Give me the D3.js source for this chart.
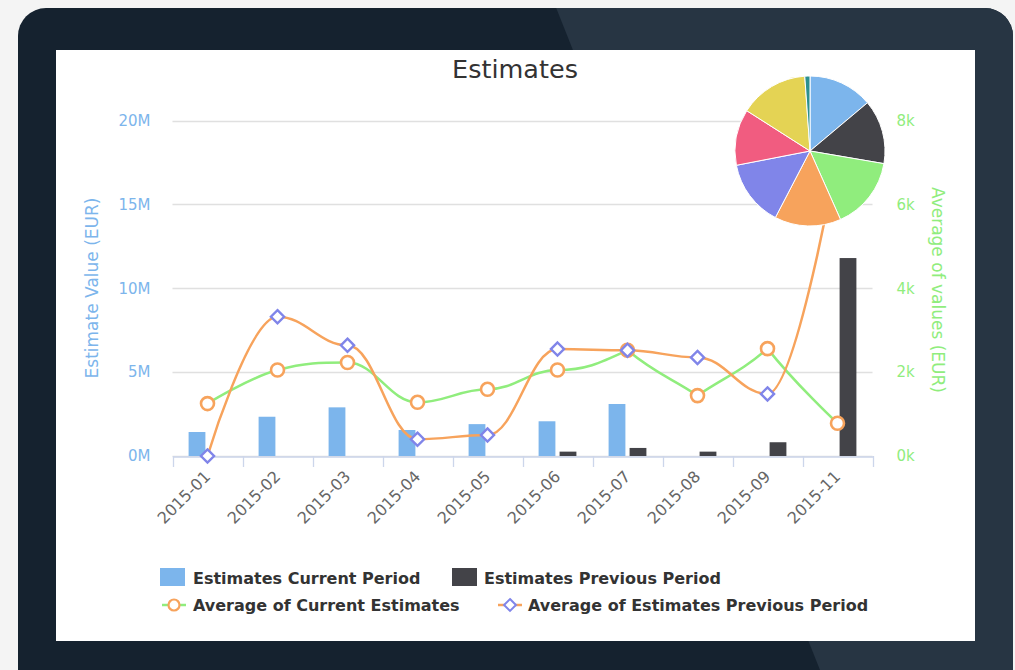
<!DOCTYPE html>
<html>
<head>
<meta charset="utf-8">
<script src="https://cdn.jsdelivr.net/npm/d3@7"></script>
<style>
  html, body { margin: 0; padding: 0; background: #f4f4f4; }
  svg { display: block; }
</style>
</head>
<body>
<svg id="chart"></svg>
<script>
const months = ["2015-01","2015-02","2015-03","2015-04","2015-05","2015-06","2015-07","2015-08","2015-09","2015-11"];
// bars, in EUR (left axis)
const currentPeriod  = [1430000, 2340000, 2900000, 1550000, 1900000, 2070000, 3100000, 0, 0, 0];
const previousPeriod = [0, 0, 0, 0, 0, 260000, 480000, 260000, 820000, 11800000];
// averages, in EUR (right axis)
const avgCurrent  = [1250, 2050, 2230, 1280, 1590, 2050, 2520, 1440, 2560, 780];
const avgPrevious = [0, 3320, 2640, 400, 500, 2550, 2520, 2350, 1480, 7200];
// pie in the corner
const pieValues = [50, 49.7, 56.3, 51.5, 51.5, 43.5, 53.5, 4];
const leftTicks = [0, 5000000, 10000000, 15000000, 20000000];
const rightTicks = [0, 2000, 4000, 6000, 8000];

const W = 1015, H = 670;
const colors = ["#7cb5ec", "#434348", "#90ed7d", "#f7a35c", "#8085e9", "#f15c80", "#e4d354", "#2b908f"];
const font = "'DejaVu Sans', sans-serif";

const svg = d3.select("#chart").attr("width", W).attr("height", H);

// backdrop
svg.append("rect").attr("width", W).attr("height", H).attr("fill", "#f4f4f4");
svg.append("rect").attr("x", 18).attr("y", 8).attr("width", 995).attr("height", 720)
  .attr("rx", 28).attr("fill", "#15222f");
svg.append("clipPath").attr("id", "frame").append("rect")
  .attr("x", 18).attr("y", 8).attr("width", 995).attr("height", 720).attr("rx", 28);
svg.append("path").attr("clip-path", "url(#frame)")
  .attr("d", "M553,0 L1015,0 L1015,670 L820,670 Z").attr("fill", "#273543");
svg.append("rect").attr("x", 56).attr("y", 50).attr("width", 919).attr("height", 591).attr("fill", "#fff");

// scales
const x = d3.scaleBand().domain(months).range([172.5, 872.5]);
const xs = d3.scaleBand().domain(["cur", "prev"]).range([x.bandwidth() * 0.2, x.bandwidth() * 0.8])
  .paddingInner(0.2).paddingOuter(0.1);
const yL = d3.scaleLinear().domain([0, 20000000]).range([456, 120.5]);
const yR = d3.scaleLinear().domain([0, 8000]).range([456, 120.5]);

// title
svg.append("text").attr("x", 515).attr("y", 78).attr("text-anchor", "middle")
  .attr("font-family", font).attr("font-size", 25.5).attr("fill", "#333").text("Estimates");

// grid
svg.append("g").selectAll("line").data(leftTicks).join("line")
  .attr("x1", 172.5).attr("x2", 872.5)
  .attr("y1", d => Math.round(yL(d)) + 0.5).attr("y2", d => Math.round(yL(d)) + 0.5)
  .attr("stroke", "#e0e0e0").attr("stroke-width", 1.3);

// left axis
const leftAxis = d3.axisLeft(yL).tickValues(leftTicks).tickSize(0).tickPadding(22)
  .tickFormat(d => (d / 1000000) + "M");
svg.append("g").attr("transform", "translate(172.5,0)").call(leftAxis)
  .call(g => g.select(".domain").remove())
  .selectAll("text").attr("font-family", font).attr("font-size", 15).attr("fill", "#7cb5ec");
svg.append("text").attr("transform", "translate(98,288) rotate(-90)").attr("text-anchor", "middle")
  .attr("font-family", font).attr("font-size", 17).attr("fill", "#7cb5ec").text("Estimate Value (EUR)");

// right axis
const rightAxis = d3.axisRight(yR).tickValues(rightTicks).tickSize(0).tickPadding(24)
  .tickFormat(d => (d / 1000) + "k");
svg.append("g").attr("transform", "translate(872.5,0)").call(rightAxis)
  .call(g => g.select(".domain").remove())
  .selectAll("text").attr("font-family", font).attr("font-size", 15).attr("fill", "#90ed7d");
svg.append("text").attr("transform", "translate(932,290) rotate(90)").attr("text-anchor", "middle")
  .attr("font-family", font).attr("font-size", 17).attr("fill", "#90ed7d").text("Average of values (EUR)");

// bars
const bars = svg.append("g");
bars.selectAll(".cur").data(months).join("rect").attr("class", "cur")
  .attr("x", (d, i) => x(d) + xs("cur")).attr("width", xs.bandwidth())
  .attr("y", (d, i) => yL(currentPeriod[i])).attr("height", (d, i) => yL(0) - yL(currentPeriod[i]))
  .attr("fill", colors[0]);
bars.selectAll(".prev").data(months).join("rect").attr("class", "prev")
  .attr("x", (d, i) => x(d) + xs("prev")).attr("width", xs.bandwidth())
  .attr("y", (d, i) => yL(previousPeriod[i])).attr("height", (d, i) => yL(0) - yL(previousPeriod[i]))
  .attr("fill", colors[1]);

// x axis
const xAxis = d3.axisBottom(x).tickSize(0).tickPadding(0);
const xg = svg.append("g").attr("transform", "translate(0,456.5)").call(xAxis);
xg.select(".domain").attr("stroke", "#ccd6eb").attr("stroke-width", 1.3);
xg.selectAll(".tick text")
  .attr("font-family", font).attr("font-size", 16).attr("fill", "#666")
  .attr("text-anchor", "end").attr("dy", null).attr("y", null)
  .attr("transform", "translate(4,21) rotate(-45)");
const bounds = months.map(m => x(m)).concat([872.5]);
svg.append("g").selectAll("line").data(bounds).join("line")
  .attr("x1", d => Math.round(d) + 0.5).attr("x2", d => Math.round(d) + 0.5)
  .attr("y1", 456).attr("y2", 467).attr("stroke", "#ccd6eb").attr("stroke-width", 1.3);

// spline like the original charting tool: smoothed, no false extremes
function spline(pts) {
  const s = 1.5, d = s + 1;
  const c = pts.map((p, i) => {
    const prev = pts[i - 1], next = pts[i + 1];
    if (!prev || !next) return null;
    let lx = (s * p[0] + prev[0]) / d, ly = (s * p[1] + prev[1]) / d;
    let rx = (s * p[0] + next[0]) / d, ry = (s * p[1] + next[1]) / d;
    const corr = ((ry - ly) * (rx - p[0])) / (rx - lx);
    ly += corr; ry += corr;
    if (ly > prev[1] && ly > p[1]) { ly = Math.max(prev[1], p[1]); ry = 2 * p[1] - ly; }
    else if (ly < prev[1] && ly < p[1]) { ly = Math.min(prev[1], p[1]); ry = 2 * p[1] - ly; }
    if (ry > next[1] && ry > p[1]) { ry = Math.max(next[1], p[1]); ly = 2 * p[1] - ry; }
    else if (ry < next[1] && ry < p[1]) { ry = Math.min(next[1], p[1]); ly = 2 * p[1] - ry; }
    return { lx, ly, rx, ry };
  });
  const path = d3.path();
  pts.forEach((p, i) => {
    if (i === 0) { path.moveTo(p[0], p[1]); return; }
    const a = c[i - 1], b = c[i], q = pts[i - 1];
    path.bezierCurveTo(a ? a.rx : q[0], a ? a.ry : q[1], b ? b.lx : p[0], b ? b.ly : p[1], p[0], p[1]);
  });
  return path.toString();
}

// lines
svg.append("clipPath").attr("id", "plot").append("rect")
  .attr("x", 160).attr("y", 110).attr("width", 725).attr("height", 360);
const cx = m => x(m) + x.bandwidth() / 2;

const lines = svg.append("g").attr("clip-path", "url(#plot)");
lines.append("path").attr("d", spline(months.map((m, i) => [cx(m), yR(avgCurrent[i])])))
  .attr("fill", "none").attr("stroke", colors[2]).attr("stroke-width", 2.5);
lines.selectAll(".circ").data(months).join("circle").attr("class", "circ")
  .attr("cx", cx).attr("cy", (d, i) => yR(avgCurrent[i])).attr("r", 6.5)
  .attr("fill", "#fff").attr("stroke", colors[3]).attr("stroke-width", 2.6);

lines.append("path").attr("d", spline(months.map((m, i) => [cx(m), yR(avgPrevious[i])])))
  .attr("fill", "none").attr("stroke", colors[3]).attr("stroke-width", 2.5);
const diamond = d3.symbol().type(d3.symbolDiamond2).size(110);
lines.selectAll(".dia").data(months).join("path").attr("class", "dia")
  .attr("d", diamond)
  .attr("transform", (d, i) => `translate(${cx(d)},${yR(avgPrevious[i])})`)
  .attr("fill", "#fff").attr("stroke", colors[4]).attr("stroke-width", 2.4);

// pie
const pie = d3.pie().sort(null)(pieValues);
const arc = d3.arc().innerRadius(0).outerRadius(75);
svg.append("g").attr("transform", "translate(810,151)")
  .selectAll("path").data(pie).join("path")
  .attr("d", arc).attr("fill", (d, i) => colors[i])
  .attr("stroke", "#fff").attr("stroke-width", 1);

// legend
const leg = svg.append("g").attr("font-family", font).attr("font-size", 16)
  .attr("font-weight", "bold").attr("fill", "#333");
leg.append("rect").attr("x", 160).attr("y", 568).attr("width", 25).attr("height", 18).attr("fill", colors[0]);
leg.append("text").attr("x", 193).attr("y", 584).text("Estimates Current Period");
leg.append("rect").attr("x", 452).attr("y", 568).attr("width", 25).attr("height", 18).attr("fill", colors[1]);
leg.append("text").attr("x", 484).attr("y", 584).text("Estimates Previous Period");

leg.append("line").attr("x1", 162).attr("x2", 186).attr("y1", 605).attr("y2", 605)
  .attr("stroke", colors[2]).attr("stroke-width", 2.5);
leg.append("circle").attr("cx", 174).attr("cy", 605).attr("r", 5.5)
  .attr("fill", "#fff").attr("stroke", colors[3]).attr("stroke-width", 2.2);
leg.append("text").attr("x", 193).attr("y", 611).text("Average of Current Estimates");

leg.append("line").attr("x1", 498).attr("x2", 522).attr("y1", 605).attr("y2", 605)
  .attr("stroke", colors[3]).attr("stroke-width", 2.5);
leg.append("path").attr("d", diamond.size(90)).attr("transform", "translate(510,605)")
  .attr("fill", "#fff").attr("stroke", colors[4]).attr("stroke-width", 2);
leg.append("text").attr("x", 528).attr("y", 611).text("Average of Estimates Previous Period");
</script>
</body>
</html>
